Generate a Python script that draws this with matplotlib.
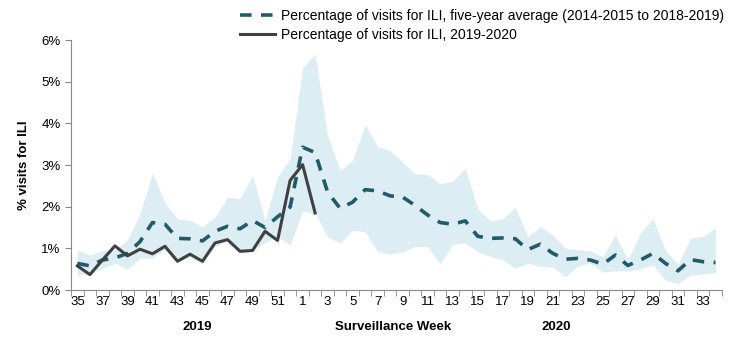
import numpy as np
import matplotlib.pyplot as plt

plt.rcParams['font.family'] = ['Liberation Sans', 'DejaVu Sans']

# surveillance weeks, 2019 week 35 to 2020 week 34
weeks = list(range(35, 53)) + list(range(1, 35))

# five-year average (2014-2015 to 2018-2019), % visits for ILI
avg5 = [0.64, 0.58, 0.72, 0.77, 0.88, 1.16, 1.62, 1.58, 1.24, 1.23,
        1.18, 1.41, 1.53, 1.47, 1.67, 1.50, 1.76, 1.99, 3.43, 3.30,
        2.35, 1.96, 2.11, 2.41, 2.38, 2.26, 2.23, 2.03, 1.80, 1.62,
        1.58, 1.66, 1.29, 1.24, 1.25, 1.23, 0.97, 1.10, 0.88, 0.74,
        0.76, 0.72, 0.62, 0.84, 0.59, 0.72, 0.88, 0.64, 0.46, 0.73,
        0.68, 0.66]

# range of previous seasons (shaded band)
band_hi = [0.96, 0.84, 0.94, 0.96, 1.20, 1.83, 2.81, 2.09, 1.71, 1.67,
           1.52, 1.75, 2.23, 2.19, 2.75, 1.67, 2.71, 3.15, 5.34, 5.66,
           3.71, 2.87, 3.11, 3.97, 3.44, 3.35, 3.07, 2.79, 2.78, 2.55,
           2.61, 2.93, 1.95, 1.66, 1.71, 1.99, 1.28, 1.52, 1.32, 1.00,
           0.97, 0.94, 0.80, 1.32, 0.73, 1.36, 1.71, 0.96, 0.61, 1.24,
           1.29, 1.49]
band_lo = [0.36, 0.40, 0.52, 0.64, 0.50, 0.76, 0.77, 0.96, 0.68, 0.80,
           0.64, 1.04, 1.20, 0.88, 0.94, 1.14, 1.28, 1.08, 1.89, 1.83,
           1.28, 1.13, 1.44, 1.40, 0.92, 0.86, 0.92, 1.04, 1.04, 0.63,
           1.10, 1.13, 0.92, 0.81, 0.73, 0.52, 0.64, 0.57, 0.55, 0.32,
           0.58, 0.65, 0.43, 0.46, 0.46, 0.51, 0.60, 0.24, 0.16, 0.36,
           0.38, 0.42]

# current season 2019-2020 (weeks 35 to 2)
cur = [0.58, 0.37, 0.72, 1.06, 0.82, 0.98, 0.87, 1.05, 0.69, 0.86,
       0.69, 1.13, 1.21, 0.93, 0.95, 1.41, 1.19, 2.63, 3.01, 1.85]

x = np.arange(len(weeks))

fig = plt.figure(figsize=(7.41, 3.40), dpi=100)
ax = fig.add_axes([0.096, 0.147, 0.878, 0.735])

ax.fill_between(x, band_lo, band_hi, color='#dcedf4', lw=0)
l1, = ax.plot(x, avg5, color='#215a69', lw=2.6, dashes=(3.2, 2.6),
              label='Percentage of visits for ILI, five-year average (2014-2015 to 2018-2019)')
l2, = ax.plot(x[:len(cur)], cur, color='#404040', lw=2.2,
              label='Percentage of visits for ILI, 2019-2020')

ax.set_xlim(-0.5, len(weeks) - 0.5)
ax.set_ylim(0, 6)
ax.set_yticks(range(7))
ax.set_yticklabels([str(v) + '%' for v in range(7)], fontsize=9.5)

ax.set_xticks(x[::2])
ax.set_xticklabels([str(w) for w in weeks[::2]], fontsize=9.5)
ax.set_xticks(np.arange(-0.5, len(weeks), 1), minor=True)
ax.tick_params(axis='x', which='major', length=0, pad=4)
ax.tick_params(axis='x', which='minor', length=4, color='#888888')
ax.tick_params(axis='y', length=4, color='#888888')

for s in ['top', 'right']:
    ax.spines[s].set_visible(False)
for s in ['left', 'bottom']:
    ax.spines[s].set_color('#888888')

ax.set_ylabel('% visits for ILI', fontsize=9.5, fontweight='bold', labelpad=8)

# year / axis title row under the tick labels
trans = ax.get_xaxis_transform()
ax.text(9.6, -0.125, '2019', transform=trans, ha='center', va='top',
        fontsize=9.5, fontweight='bold')
ax.text(25.2, -0.125, 'Surveillance Week', transform=trans, ha='center', va='top',
        fontsize=9.5, fontweight='bold')
ax.text(38.3, -0.125, '2020', transform=trans, ha='center', va='top',
        fontsize=9.5, fontweight='bold')

fig.legend(handles=[l1, l2], loc='upper left', bbox_to_anchor=(0.317, 0.99),
           frameon=False, fontsize=10, handlelength=2.5, handletextpad=0.4,
           labelspacing=0.38, borderaxespad=0)

fig.savefig('out.png', dpi=100)
